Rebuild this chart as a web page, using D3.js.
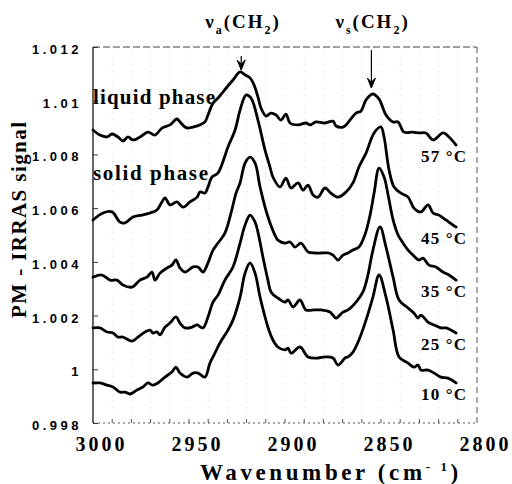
<!DOCTYPE html>
<html>
<head>
<meta charset="utf-8">
<script src="https://cdn.jsdelivr.net/npm/d3@7"></script>
<style>
  body { margin: 0; background: #fff; }
  svg { display: block; }
  .serif { font-family: "Liberation Serif", "Times New Roman", serif; font-weight: bold; }
</style>
</head>
<body>
<svg id="chart" width="512" height="484"></svg>
<script>
// [wavenumber cm-1, PM-IRRAS signal], one array per temperature
const t57 = [[3000,1.00891],[2996.4,1.00872],[2992.7,1.00865],[2990.1,1.00876],[2987,1.00865],[2984.4,1.0085],[2981.8,1.00865],[2979.2,1.00854],[2975.5,1.00865],[2971.4,1.00883],[2967.7,1.00872],[2964.1,1.00898],[2959.9,1.0091],[2956.3,1.00932],[2954.7,1.00921],[2952.1,1.00902],[2950.5,1.00898],[2947.9,1.00902],[2944.3,1.0091],[2941.7,1.00921],[2940.1,1.00947],[2937.5,1.00991],[2934.9,1.0101],[2930.2,1.01051],[2927.1,1.01077],[2923.4,1.01107],[2920.8,1.01096],[2918.2,1.01085],[2916.1,1.01058],[2914.1,1.01014],[2912.5,1.00973],[2909.9,1.00943],[2907.3,1.00954],[2904.7,1.00947],[2902.1,1.00928],[2899.5,1.0095],[2897.4,1.00917],[2893.2,1.0091],[2889.1,1.00917],[2887,1.0091],[2883.9,1.00921],[2879.2,1.00917],[2875,1.00924],[2873.4,1.00906],[2869.8,1.00902],[2868.2,1.0091],[2863,1.00954],[2860.4,1.00962],[2857.8,1.01003],[2854.2,1.01025],[2851,1.01006],[2847.4,1.00947],[2843.7,1.00921],[2841.1,1.00921],[2838,1.00883],[2833.3,1.00883],[2830.2,1.0088],[2826.6,1.0088],[2822.9,1.00854],[2817.7,1.0088],[2814.6,1.00865],[2810.9,1.00835]];

const t45 = [[3000,1.00556],[2994.8,1.00582],[2990.1,1.00586],[2985.9,1.00548],[2983.3,1.00545],[2979.2,1.00567],[2974.5,1.00574],[2970.3,1.00582],[2966.7,1.00593],[2964.1,1.00623],[2962.5,1.00638],[2959.9,1.00612],[2956.3,1.00623],[2953.1,1.00604],[2949.5,1.00623],[2945.8,1.00641],[2944.3,1.0066],[2941.7,1.00656],[2940.1,1.00679],[2938,1.00716],[2934.9,1.00731],[2929.7,1.00828],[2926,1.00891],[2923.4,1.00965],[2920.3,1.01021],[2917.7,1.0101],[2914.1,1.00928],[2910.4,1.00816],[2907.8,1.00753],[2906.3,1.00716],[2902.6,1.00679],[2899.5,1.00712],[2896.9,1.00675],[2893.2,1.00694],[2890.6,1.00667],[2888,1.00686],[2885.4,1.00649],[2882.8,1.00641],[2879.2,1.00675],[2876.1,1.00656],[2872.4,1.00641],[2868.2,1.0066],[2864.6,1.00694],[2861.5,1.00753],[2857.8,1.00805],[2853.6,1.0088],[2850,1.00902],[2848.4,1.00865],[2845.8,1.00742],[2843.2,1.00679],[2839.6,1.00656],[2835.9,1.00641],[2832.8,1.006],[2829.2,1.00586],[2825.5,1.00612],[2822.9,1.00582],[2819.8,1.00574],[2816.2,1.00556],[2812.5,1.00537],[2810.9,1.0053]];

const t35 = [[3000,1.00343],[2995.3,1.00351],[2991.1,1.00332],[2987.5,1.00332],[2984.4,1.00314],[2979.7,1.00306],[2975.5,1.00332],[2971.9,1.00343],[2969.3,1.00362],[2967.7,1.00332],[2965.1,1.00358],[2961.5,1.00377],[2958.9,1.00388],[2956.8,1.00407],[2954.7,1.00377],[2952.1,1.00362],[2947.9,1.00381],[2945.3,1.00381],[2942.7,1.00362],[2940.1,1.00396],[2937.5,1.00444],[2934.9,1.0047],[2931.3,1.00507],[2928.1,1.00582],[2925.5,1.00656],[2923.4,1.00694],[2920.8,1.00768],[2918.2,1.0079],[2915.6,1.00768],[2913,1.00679],[2910.4,1.00604],[2907.8,1.00545],[2904.7,1.00492],[2903.7,1.00481],[2900,1.0047],[2897.4,1.00474],[2894.8,1.00455],[2891.7,1.0047],[2888,1.00437],[2884.4,1.00433],[2881.3,1.00433],[2877.6,1.00433],[2875,1.00425],[2872.4,1.00407],[2869.8,1.00425],[2867.2,1.00433],[2864.6,1.00444],[2861.5,1.00455],[2858.4,1.005],[2855.7,1.00574],[2853.6,1.00656],[2851,1.00749],[2848.4,1.00716],[2846.3,1.00649],[2843.7,1.00556],[2841.1,1.005],[2838.5,1.0047],[2835.9,1.00444],[2833.3,1.00425],[2830.2,1.00407],[2828.1,1.00414],[2825,1.00388],[2821.4,1.00381],[2817.7,1.00362],[2814.6,1.00351],[2810.9,1.00332]];

const t25 = [[3000,1.00154],[2996.4,1.00154],[2992.7,1.00139],[2989.6,1.00135],[2987,1.0012],[2984.4,1.0012],[2979.7,1.00105],[2976.6,1.0012],[2972.9,1.00139],[2970.3,1.00146],[2968.8,1.00135],[2966.7,1.00139],[2965.1,1.00128],[2962.5,1.00157],[2959.9,1.00172],[2956.8,1.00195],[2954.7,1.00172],[2952.1,1.00154],[2948.4,1.00157],[2945.8,1.00165],[2942.7,1.00154],[2940.1,1.00195],[2937.5,1.0025],[2934.9,1.00276],[2931.3,1.00332],[2927.1,1.00381],[2923.4,1.0047],[2920.8,1.00537],[2918.2,1.00574],[2915.6,1.00548],[2914.1,1.00511],[2911.5,1.00418],[2908.9,1.00332],[2907.3,1.00288],[2903.7,1.00265],[2900,1.0025],[2898.4,1.00258],[2895.8,1.00232],[2892.2,1.00258],[2889.1,1.00221],[2884.4,1.00221],[2881.3,1.00221],[2876.6,1.00213],[2873.4,1.00191],[2869.8,1.00213],[2867.2,1.00221],[2863,1.0025],[2859.4,1.00288],[2856.8,1.00351],[2854.2,1.00444],[2850.5,1.0053],[2847.4,1.00455],[2843.7,1.00343],[2840.6,1.00258],[2835.9,1.00228],[2832.8,1.00209],[2830.7,1.00191],[2829.2,1.00202],[2825.5,1.00176],[2822.4,1.00165],[2818.8,1.00154],[2816.2,1.00154],[2810.9,1.00135]];

const t10 = [[3000,0.99949],[2996.4,0.99949],[2992.7,0.99941],[2989.6,0.99934],[2985.9,0.99915],[2983.3,0.99915],[2980.7,0.99908],[2977.1,0.99923],[2974,0.99934],[2971.4,0.99949],[2968.8,0.99941],[2966.2,0.99949],[2962.5,0.99971],[2958.9,0.9999],[2956.8,1.00008],[2954.7,0.99986],[2951,0.99971],[2947.9,0.99986],[2945.3,0.99986],[2941.7,0.99971],[2939.1,1.00023],[2936.5,1.0006],[2933.9,1.00098],[2929.7,1.00146],[2927.1,1.00183],[2923.4,1.00269],[2920.8,1.00358],[2918.2,1.00396],[2915.6,1.00358],[2913,1.00269],[2910.4,1.00195],[2908.9,1.00157],[2906.3,1.00109],[2903.7,1.00083],[2900,1.00072],[2898.4,1.00079],[2896.9,1.0006],[2892.2,1.00083],[2888,1.00046],[2882.8,1.00042],[2879.2,1.00046],[2875,1.00042],[2872.4,1.00016],[2868.7,1.00042],[2867.2,1.00046],[2864.6,1.00064],[2861.5,1.00109],[2857.8,1.00183],[2854.2,1.00269],[2851,1.00351],[2847.4,1.00269],[2843.7,1.00146],[2840.6,1.00046],[2835.9,1.00023],[2832.8,1.00008],[2830.7,1.00016],[2829.2,0.99997],[2825.5,0.99997],[2822.4,0.99986],[2818.8,0.99971],[2815.1,0.99967],[2810.9,0.99949]];

const spectra = [t57, t45, t35, t25, t10];
const tempLabels = ['57 °C', '45 °C', '35 °C', '25 °C', '10 °C'];
const phaseLabels = ['liquid phase', 'solid phase'];
const xTicks = [3000, 2950, 2900, 2850, 2800];
const yTicks = [0.998, 1, 1.002, 1.004, 1.006, 1.008, 1.01, 1.012];
// band name subscript, band position (cm-1), arrow tip signal
const bandSubs = ['a', 's'];
const bandPos = [2922.8, 2855];
const bandTip = [1.01114, 1.01047];

const width = 512, height = 484;
const margin = { top: 47, right: 35, bottom: 61, left: 93 };

const svg = d3.select('#chart');

const x = d3.scaleLinear()
    .domain([3000, 2800])
    .range([margin.left, width - margin.right]);
const y = d3.scaleLinear()
    .domain([0.998, 1.012])
    .range([height - margin.bottom, margin.top]);

const x0 = x.range()[0], x1 = x.range()[1];
const yb = y.range()[0], yt = y.range()[1];

// faint dotted grid every 10 cm-1
svg.append('g')
    .selectAll('line')
    .data(d3.range(2990, 2800, -10))
    .join('line')
    .attr('x1', d => x(d)).attr('x2', d => x(d))
    .attr('y1', yt).attr('y2', yb)
    .attr('stroke', '#cfcfcf')
    .attr('stroke-width', 0.8)
    .attr('stroke-dasharray', '1,5');

// frame: solid left axis, broken top/right/bottom
const frame = svg.append('g').attr('fill', 'none');
frame.append('line')
    .attr('x1', x0).attr('x2', x1).attr('y1', yt).attr('y2', yt)
    .attr('stroke', '#444').attr('stroke-dasharray', '7,3');
frame.append('line')
    .attr('x1', x1).attr('x2', x1).attr('y1', yt).attr('y2', yb)
    .attr('stroke', '#555').attr('stroke-dasharray', '6,4');
frame.append('line')
    .attr('x1', x0).attr('x2', x1).attr('y1', yb).attr('y2', yb)
    .attr('stroke', '#555').attr('stroke-dasharray', '2,3');
frame.append('line')
    .attr('x1', x0).attr('x2', x0).attr('y1', yt).attr('y2', yb)
    .attr('stroke', '#333').attr('stroke-width', 1.5);

// small ticks along the bottom
svg.append('g')
    .selectAll('line')
    .data(d3.range(2990, 2800, -10))
    .join('line')
    .attr('x1', d => x(d)).attr('x2', d => x(d))
    .attr('y1', yb).attr('y2', yb - 4)
    .attr('stroke', '#555');

// y axis
const yAxis = d3.axisLeft(y)
    .tickValues(yTicks)
    .tickSize(-5)
    .tickPadding(11)
    .tickFormat(d => String(+d.toFixed(3)));

svg.append('g')
    .attr('transform', `translate(${x0},0)`)
    .call(yAxis)
    .call(g => g.select('.domain').remove())
    .call(g => g.selectAll('.tick line').attr('stroke', '#333'))
    .call(g => g.selectAll('text')
        .attr('font-family', '"Liberation Sans", Arial, sans-serif')
        .attr('font-weight', 'bold')
        .attr('font-size', 13)
        .attr('letter-spacing', 3.5)
        .attr('dy', '0.5em')
        .attr('fill', '#000'));

// x axis
const xAxis = d3.axisBottom(x)
    .tickValues(xTicks)
    .tickSize(0)
    .tickPadding(14)
    .tickFormat(d3.format('d'));

svg.append('g')
    .attr('transform', `translate(0,${yb})`)
    .call(xAxis)
    .call(g => g.select('.domain').remove())
    .call(g => g.selectAll('text')
        .attr('class', 'serif')
        .attr('font-size', 20)
        .attr('letter-spacing', 3)
        .attr('dx', 8)
        .attr('fill', '#000'));

// axis titles
const xTitle = svg.append('text')
    .attr('class', 'serif')
    .attr('x', 200).attr('y', 480)
    .attr('font-size', 23)
    .attr('letter-spacing', 3.6);
xTitle.append('tspan').text('Wavenumber (cm');
xTitle.append('tspan').attr('font-size', 13).attr('dy', -9).text('- 1');
xTitle.append('tspan').attr('dy', 9).text(')');

svg.append('text')
    .attr('class', 'serif')
    .attr('transform', 'translate(26,220) rotate(-90)')
    .attr('text-anchor', 'middle')
    .attr('font-size', 21)
    .attr('textLength', 196)
    .attr('lengthAdjust', 'spacing')
    .text('PM - IRRAS signal');

// spectra
const line = d3.line()
    .x(d => x(d[0]))
    .y(d => y(d[1]))
    .curve(d3.curveCatmullRom.alpha(0.5));

svg.append('g')
    .selectAll('path')
    .data(spectra)
    .join('path')
    .attr('d', line)
    .attr('fill', 'none')
    .attr('stroke', '#000')
    .attr('stroke-width', 2.8)
    .attr('stroke-linejoin', 'round')
    .attr('stroke-linecap', 'round');

// temperature labels under the right end of each trace
svg.append('g')
    .selectAll('text')
    .data(spectra)
    .join('text')
    .attr('class', 'serif')
    .attr('x', d => x(d[d.length - 1][0]) - 35)
    .attr('y', d => y(d[d.length - 1][1]) + 17)
    .attr('font-size', 17)
    .attr('textLength', 45)
    .attr('lengthAdjust', 'spacing')
    .text((d, i) => tempLabels[i]);

// phase labels
svg.append('text')
    .attr('class', 'serif')
    .attr('x', x0).attr('y', y(1.00988))
    .attr('font-size', 21)
    .attr('textLength', 122)
    .attr('lengthAdjust', 'spacing')
    .text(phaseLabels[0]);
svg.append('text')
    .attr('class', 'serif')
    .attr('x', x0).attr('y', y(1.00705))
    .attr('font-size', 21)
    .attr('textLength', 115)
    .attr('lengthAdjust', 'spacing')
    .text(phaseLabels[1]);

// band labels with arrows
const arrowLen = [14, 38];
bandSubs.forEach((sub, i) => {
    const bx = x(bandPos[i]);
    const tip = y(bandTip[i]);
    const g = svg.append('g');
    g.append('line')
        .attr('x1', bx).attr('x2', bx)
        .attr('y1', tip - arrowLen[i]).attr('y2', tip)
        .attr('stroke', '#000').attr('stroke-width', 1.2);
    g.append('path')
        .attr('d', `M${bx - 4},${tip - 10}L${bx},${tip}L${bx + 4},${tip - 10}L${bx},${tip - 6}Z`)
        .attr('fill', '#000')
        .attr('stroke', '#000')
        .attr('stroke-width', 1)
        .attr('stroke-linejoin', 'round');

    const t = g.append('text')
        .attr('class', 'serif')
        .attr('x', bx - 36).attr('y', 28)
        .attr('font-size', 19)
        .attr('letter-spacing', 2);
    t.append('tspan').text('ν');
    t.append('tspan').attr('font-size', 12).attr('dy', 6).text(sub);
    t.append('tspan').attr('dy', -6).text('(CH');
    t.append('tspan').attr('font-size', 12).attr('dy', 6).text('2');
    t.append('tspan').attr('dy', -6).text(')');
});
</script>
</body>
</html>
